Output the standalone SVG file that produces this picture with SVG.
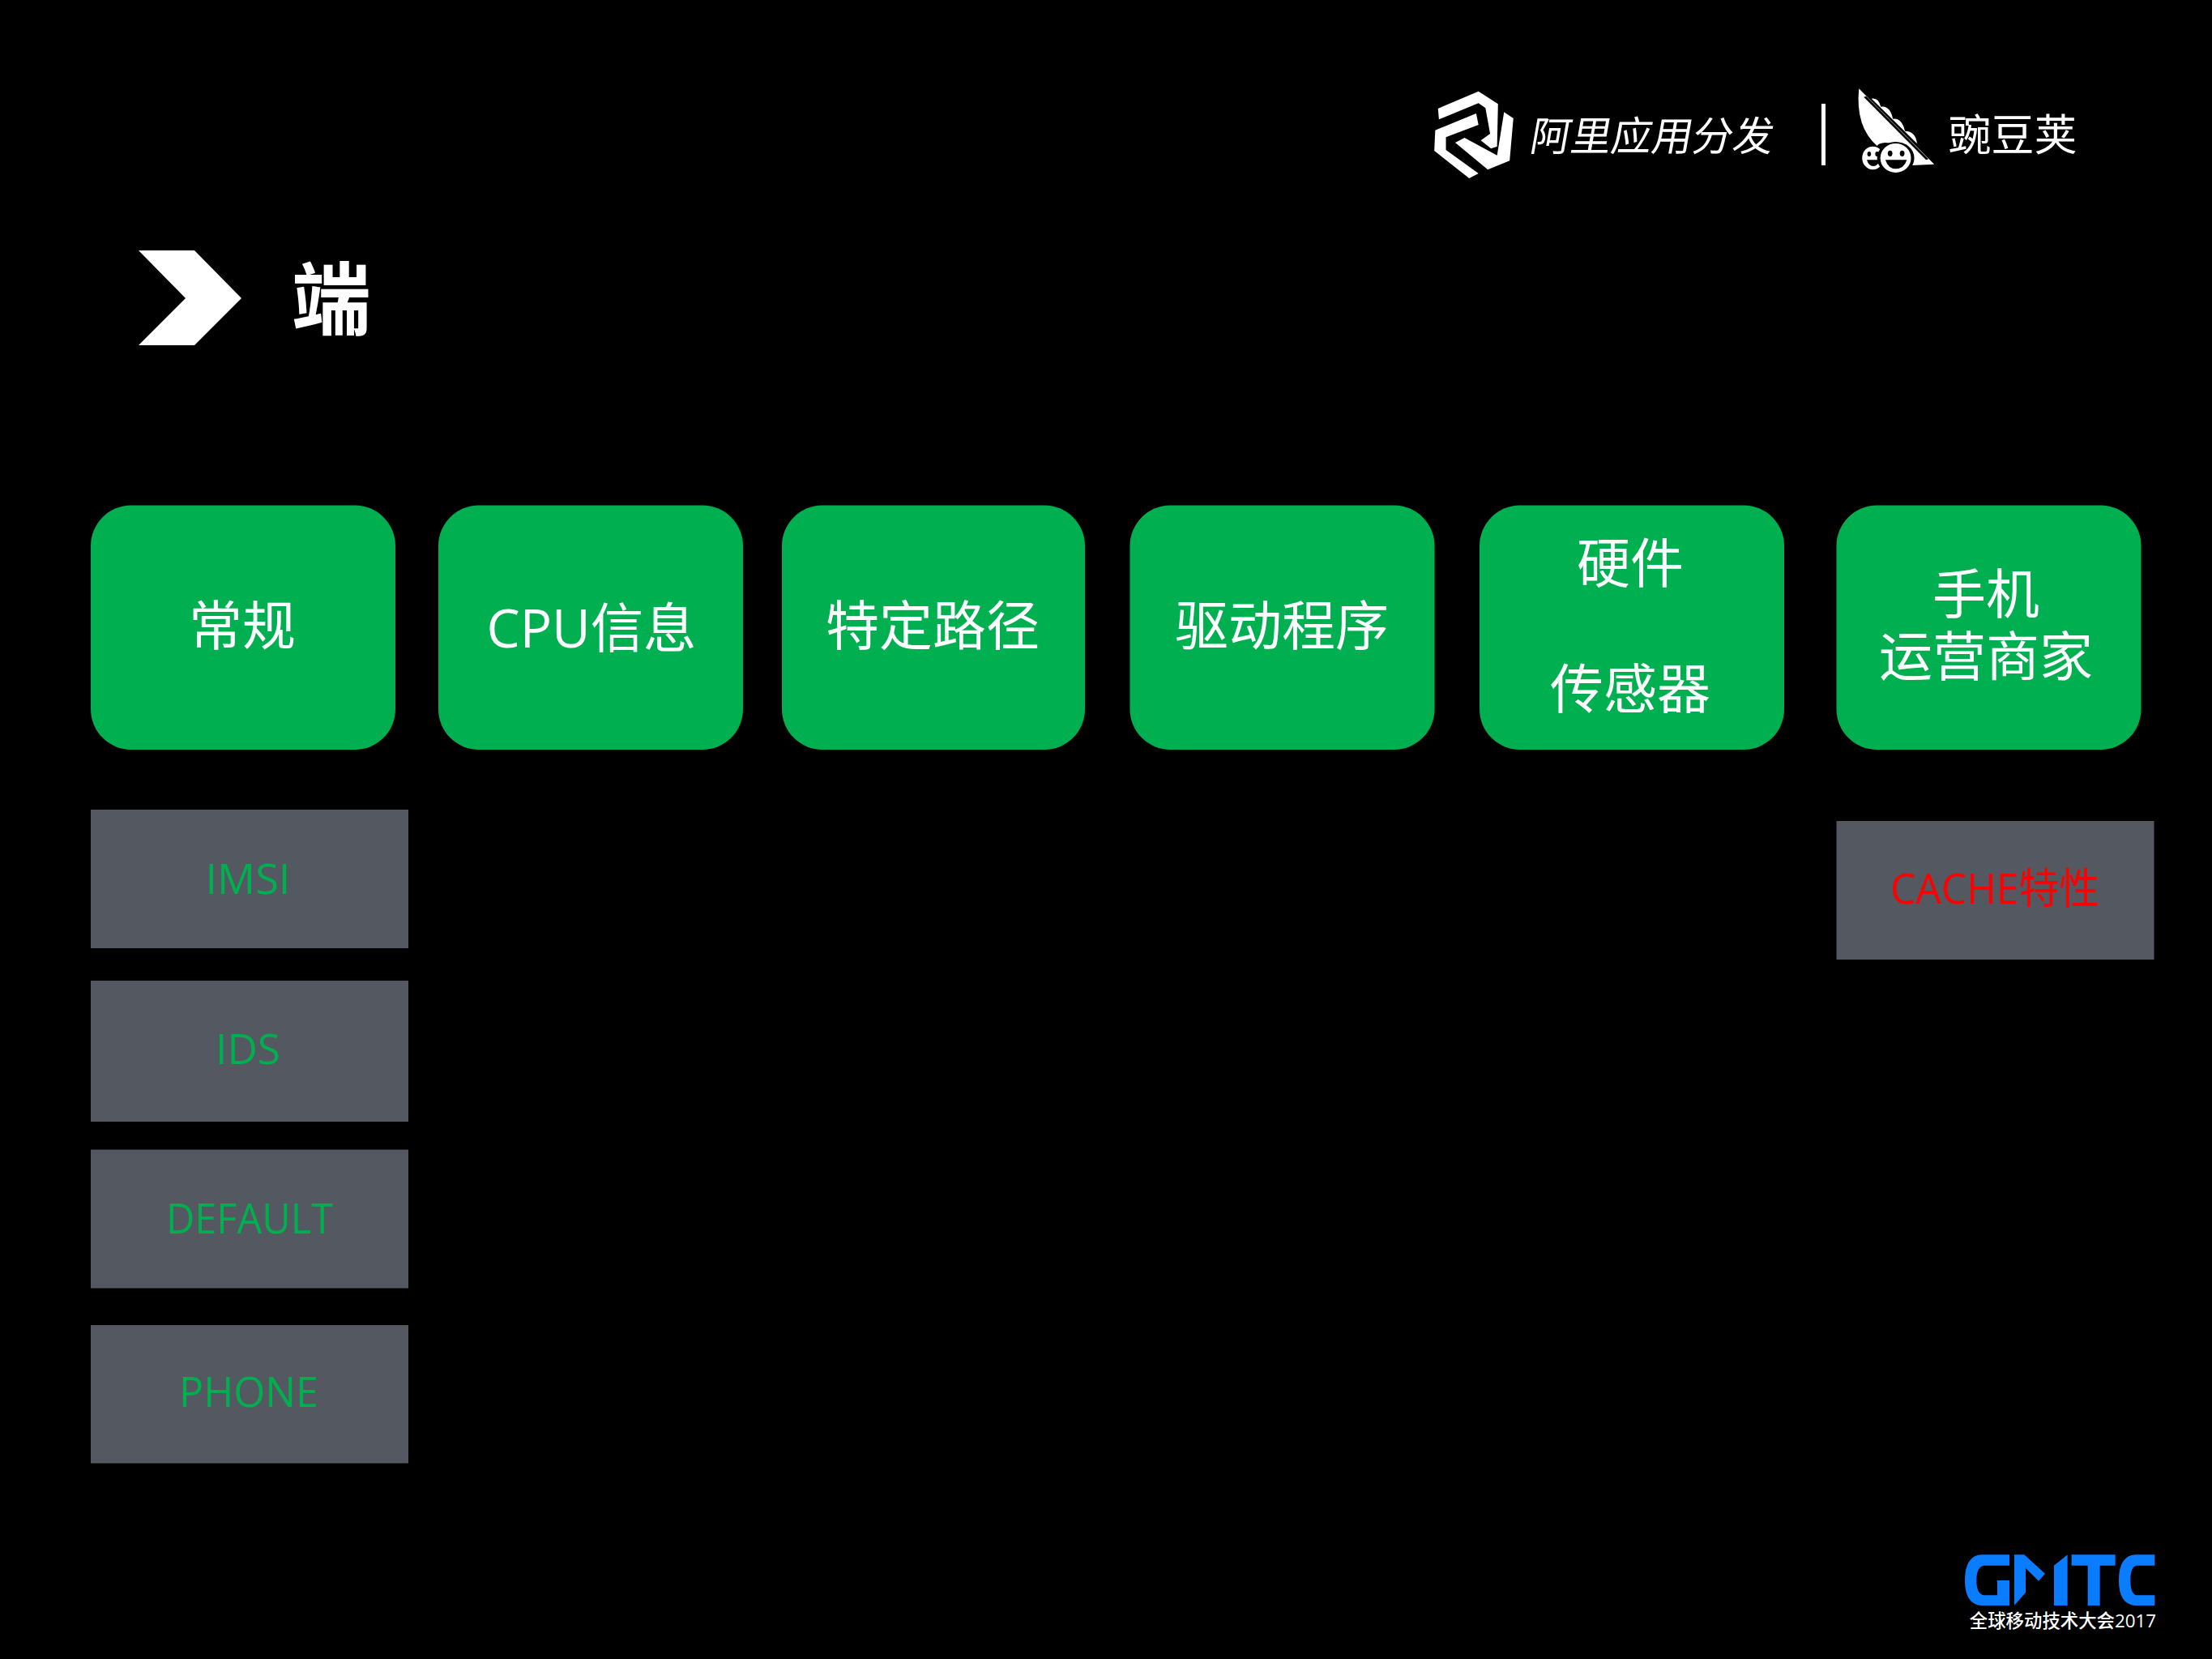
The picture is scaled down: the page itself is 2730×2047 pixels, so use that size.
<svg xmlns="http://www.w3.org/2000/svg" width="2730" height="2047" viewBox="0 0 2730 2047">
<style>
text{font-family:"Open Sans","Noto Sans CJK SC","Noto Sans",sans-serif;text-anchor:middle;dominant-baseline:central}
.g{fill:#00b050}
.s{fill:#545860}
.w{fill:#fff}
.t{font-size:66px;fill:#fff;font-family:"Liberation Sans","Noto Sans CJK SC",sans-serif}
.u{font-size:66px;fill:#fff}
.l{font-size:52px;fill:#00b050;lengthAdjust:spacingAndGlyphs}
</style>
<rect width="2730" height="2047" fill="#000"/>
<g id="logo-ali">
<g transform="translate(1730 90) scale(.574 .3333)" class="w">
<path d="M78 132L165 68L207 115L205 272L192 280L170 250L190 225L180 130L165 112L80 172Z"/>
<path d="M70 288L72 212L160 150L165 192L95 238L95 285L165 372L145 390Z"/>
<path d="M115 258L135 240L205 305L220 145L240 168L232 325L185 358Z"/>
</g>
<text class="w" transform="translate(2040 167) skewX(-10)" font-size="50">阿里应用分发</text>
</g>
<rect id="logo-divider" x="2248" y="128" width="5" height="76" class="w"/>
<g id="logo-wandoujia">
<g transform="translate(1730 90) scale(.574 .3333)">
<path class="w" d="M983 58L1145 338L1098 342Q1090 262 1040 258Q1025 260 1022 270Q975 200 983 58Z"/>
<path d="M996 88L1130 320" stroke="#000" stroke-width="6" fill="none"/>
<path class="w" d="M1010 95Q1025 90 1030 125Q1050 120 1056 170Q1075 165 1082 215Q1105 215 1108 262L1125 290Z"/>
<ellipse class="w" cx="1013" cy="315" rx="23" ry="43"/>
<ellipse cx="1062" cy="315" rx="40" ry="60" fill="#000"/>
<ellipse class="w" cx="1062" cy="315" rx="33" ry="54"/>
<ellipse cx="1005" cy="300" rx="4" ry="9" fill="#000"/><ellipse cx="1022" cy="300" rx="4" ry="9" fill="#000"/>
<ellipse cx="1050" cy="298" rx="5" ry="11" fill="#000"/><ellipse cx="1076" cy="298" rx="5" ry="11" fill="#000"/>
<path d="M1000 322H1028Q1024 345 1014 345Q1004 345 1000 322Z" fill="#000"/>
<path d="M1040 322H1086Q1080 355 1062 355Q1046 355 1040 322Z" fill="#000"/>
</g>
<text class="w" x="2484" y="165" font-size="53">豌豆荚</text>
</g>
<g id="title">
<path class="w" d="M171 309H240L298 368L240 426H171L229 368Z"/>
<text class="w" x="409" y="367" font-size="98" font-weight="700">端</text>
</g>
<g id="node-changgui"><rect class="g" x="112" y="623.500" width="376" height="301.500" rx="50"/><text class="t" x="299" y="773">常规</text></g>
<g id="node-cpu"><rect class="g" x="541" y="623.500" width="376" height="301.500" rx="50"/><text class="u" x="730" y="773" textLength="259" lengthAdjust="spacingAndGlyphs">CPU信息</text></g>
<g id="node-path"><rect class="g" x="965" y="623.500" width="374" height="301.500" rx="50"/><text class="t" x="1151" y="773">特定路径</text></g>
<g id="node-driver"><rect class="g" x="1394.500" y="623.500" width="376" height="301.500" rx="50"/><text class="t" x="1582" y="773">驱动程序</text></g>
<g id="node-hardware"><rect class="g" x="1826" y="623.500" width="376" height="301.500" rx="50"/><text class="t" x="2012" y="696">硬件</text><text class="t" x="2012" y="851">传感器</text></g>
<g id="node-carrier"><rect class="g" x="2266.500" y="623.500" width="376" height="301.500" rx="50"/><text class="t" x="2451" y="734">手机</text><text class="t" x="2451" y="811">运营商家</text></g>
<g id="node-imsi"><rect class="s" x="112" y="999" width="392" height="171"/><text class="l" x="306" y="1082" textLength="105" lengthAdjust="spacingAndGlyphs">IMSI</text></g>
<g id="node-ids"><rect class="s" x="112" y="1210" width="392" height="174"/><text class="l" x="306" y="1292" textLength="80" lengthAdjust="spacingAndGlyphs">IDS</text></g>
<g id="node-default"><rect class="s" x="112" y="1418.500" width="392" height="171"/><text class="l" x="308" y="1501" textLength="206" lengthAdjust="spacingAndGlyphs">DEFAULT</text></g>
<g id="node-phone"><rect class="s" x="112" y="1635" width="392" height="170.500"/><text class="l" x="307" y="1715" textLength="172" lengthAdjust="spacingAndGlyphs">PHONE</text></g>
<g id="node-cache"><rect class="s" x="2266.500" y="1013" width="392" height="171"/><text class="l" x="2462" y="1094" style="fill:#f00" textLength="258" lengthAdjust="spacingAndGlyphs">CACHE特性</text></g>
<g id="logo-gmtc">
<g transform="translate(2400 1890) scale(.3333)" fill="#0a7cff">
<path d="M240 85H135Q75 90 75 180Q75 268 135 273H240V180H195V235H145Q118 230 118 180Q118 130 145 125H240Z"/>
<path d="M258 85H295L372 155L348 182L300 135V225L258 273Z"/>
<path d="M405 273V125L455 85V273Z"/>
<path d="M470 85H632V125H575V273H530V125H470Z"/>
<path d="M778 85H705Q645 90 645 180Q645 268 705 273H778V235H710Q688 230 688 180Q688 130 710 125H778Z"/>
</g>
<text class="w" x="2546" y="1999" font-size="22.400" font-weight="500">全球移动技术大会2017</text>
</g>
</svg>
